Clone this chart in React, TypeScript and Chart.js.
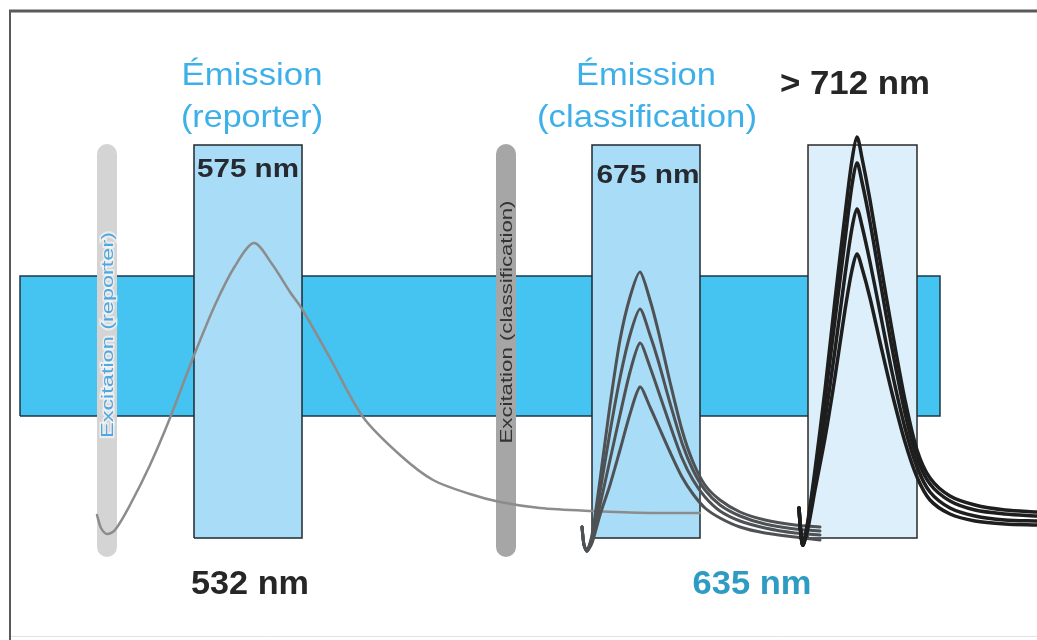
import React, { useEffect, useRef } from "react";
import { Chart, registerables } from "chart.js";

Chart.register(...registerables);

// ---- Data (diagram value space: x = spectral position, y = signal depth, top = 0) ----
const bandX = [20, 940];
const bandY = [276, 416];
const reporterBoxX = [194, 302];
const classBoxX = [592, 700];
const farRedBoxX = [808, 917];
const boxY = [145, 538];
const reporterLaserX = 107;
const classLaserX = 506;
const laserY = [154, 547];

const reporterX = [97, 101, 107, 115, 130, 150, 170, 193, 215, 235, 254, 272, 290, 302, 330, 363, 400, 433, 470, 500, 540, 592, 650, 700];
const reporterY = [515, 528, 534, 530, 505, 465, 418, 358, 305, 266, 243, 264, 292, 309, 358, 417, 455, 480, 494, 502, 508, 511, 513, 513];

const classX = [582, 584, 587, 592, 600, 610, 620, 630, 640, 650, 658, 670, 682, 693, 705, 720, 740, 765, 795, 820];
const classY1 = [527, 545, 551, 535, 480, 405, 340, 297, 272, 300, 330, 382, 430, 462, 485, 500, 512, 520, 525, 527];
const classY2 = [527, 545, 551, 537, 492, 432, 378, 335, 309, 335, 360, 403, 443, 470, 490, 505, 516, 524, 529, 531];
const classY3 = [527, 545, 551, 540, 505, 460, 415, 372, 343, 367, 390, 425, 458, 480, 497, 511, 521, 528, 533, 535];
const classY4 = [527, 545, 551, 543, 515, 485, 450, 414, 387, 407, 425, 452, 477, 494, 508, 518, 527, 533, 537, 540];

const farX = [799, 801, 803, 808, 815, 825, 835, 845, 852, 857, 862, 870, 880, 892, 905, 917, 930, 950, 975, 1005, 1037];
const farY1 = [508, 535, 545, 520, 470, 390, 300, 215, 160, 137, 158, 200, 260, 330, 400, 450, 478, 496, 505, 510, 512];
const farY2 = [508, 535, 545, 522, 475, 400, 320, 240, 185, 163, 182, 222, 280, 348, 413, 458, 484, 501, 510, 514, 516];
const farY3 = [508, 535, 545, 525, 482, 420, 350, 275, 228, 209, 226, 262, 312, 372, 428, 467, 492, 508, 516, 520, 521];
const farY4 = [508, 535, 545, 528, 490, 438, 377, 310, 270, 254, 268, 298, 342, 393, 442, 477, 500, 514, 521, 524, 525];

// ---- Labels ----
type Label = { text: string; x: number; y: number; w: number; size: number; bold: boolean; color: string; rot?: boolean; halo?: boolean };
const labels: Label[] = [
  { text: "Émission", x: 252, y: 84, w: 141, size: 32, bold: false, color: "#3DB0EA" },
  { text: "(reporter)", x: 252, y: 126, w: 142, size: 32, bold: false, color: "#3DB0EA" },
  { text: "Émission", x: 646, y: 84, w: 140, size: 32, bold: false, color: "#3DB0EA" },
  { text: "(classification)", x: 647, y: 126, w: 220, size: 32, bold: false, color: "#3DB0EA" },
  { text: "> 712 nm", x: 855, y: 93, w: 150, size: 34, bold: true, color: "#262626" },
  { text: "575 nm", x: 248, y: 176, w: 102, size: 25, bold: true, color: "#262a30" },
  { text: "675 nm", x: 648, y: 182, w: 103, size: 25, bold: true, color: "#262a30" },
  { text: "532 nm", x: 250, y: 593, w: 118, size: 33, bold: true, color: "#262626" },
  { text: "635 nm", x: 752, y: 593, w: 119, size: 33, bold: true, color: "#2E9CC2" },
  { text: "Excitation (reporter)", x: 107, y: 335, w: 206, size: 17, bold: false, color: "#4FA8E0", rot: true, halo: true },
  { text: "Excitation (classification)", x: 506, y: 322, w: 243, size: 17, bold: false, color: "#333333", rot: true },
];

const pts = (xs: number[], ys: number[]) => xs.map((x, i) => ({ x, y: ys[i] }));
const openRect = (xr: number[], yr: number[]) => [
  { x: xr[0], y: yr[1] },
  { x: xr[0], y: yr[0] },
  { x: xr[1], y: yr[0] },
  { x: xr[1], y: yr[1] },
];
const closedRect = (xr: number[], yr: number[]) => [...openRect(xr, yr), { x: xr[0], y: yr[1] }];

export default function App() {
  const ref = useRef<HTMLCanvasElement>(null);
  useEffect(() => {
    if (!ref.current) return;
    const curve = (data: any, color: string, width: number, tension: number) => ({
      data,
      borderColor: color,
      borderWidth: width,
      pointRadius: 0,
      tension,
      fill: false,
      borderJoinStyle: "round" as const,
      borderCapStyle: "round" as const,
    });
    const box = (xr: number[], yr: number[], fillColor: string, edge: string) => [
      {
        data: closedRect(xr, yr),
        borderColor: edge,
        borderWidth: 1.5,
        pointRadius: 0,
        tension: 0,
        fill: false,
      },
      {
        data: openRect(xr, yr),
        borderWidth: 0,
        borderColor: "rgba(0,0,0,0)",
        backgroundColor: fillColor,
        pointRadius: 0,
        tension: 0,
        fill: { value: yr[1] },
      },
    ];
    const laser = (x: number, color: string) => ({
      data: [{ x, y: laserY[0] }, { x, y: laserY[1] }],
      borderColor: color,
      borderWidth: 20,
      borderCapStyle: "round" as const,
      pointRadius: 0,
      tension: 0,
      fill: false,
    });

    const framePlugin = {
      id: "frame",
      beforeDraw(chart: any) {
        const { ctx, width, height } = chart;
        ctx.save();
        ctx.fillStyle = "#ffffff";
        ctx.fillRect(0, 0, width, height);
        const sx = chart.scales.x, sy = chart.scales.y;
        ctx.strokeStyle = "#5a5a5a";
        ctx.lineWidth = 3;
        ctx.beginPath();
        ctx.moveTo(sx.getPixelForValue(9), sy.getPixelForValue(11));
        ctx.lineTo(sx.getPixelForValue(1037), sy.getPixelForValue(11));
        ctx.stroke();
        ctx.lineWidth = 2;
        ctx.beginPath();
        ctx.moveTo(sx.getPixelForValue(10), sy.getPixelForValue(10));
        ctx.lineTo(sx.getPixelForValue(10), sy.getPixelForValue(640));
        ctx.stroke();
        ctx.strokeStyle = "#e2e2e2";
        ctx.lineWidth = 1;
        ctx.beginPath();
        ctx.moveTo(sx.getPixelForValue(11), sy.getPixelForValue(636.5));
        ctx.lineTo(sx.getPixelForValue(1037), sy.getPixelForValue(636.5));
        ctx.stroke();
        ctx.restore();
      },
    };

    const labelPlugin = {
      id: "labels",
      afterDatasetsDraw(chart: any) {
        const { ctx } = chart;
        const sx = chart.scales.x, sy = chart.scales.y;
        labels.forEach((l) => {
          ctx.save();
          ctx.font = `${l.bold ? "bold " : ""}${l.size}px "Liberation Sans", Arial, sans-serif`;
          const m = ctx.measureText(l.text).width;
          const k = l.w / m;
          ctx.translate(sx.getPixelForValue(l.x), sy.getPixelForValue(l.y));
          ctx.textAlign = "center";
          if (l.rot) {
            ctx.rotate(-Math.PI / 2);
            ctx.textBaseline = "middle";
          } else {
            ctx.textBaseline = "alphabetic";
          }
          ctx.scale(k, 1);
          if (l.halo) {
            ctx.strokeStyle = "rgba(255,255,255,0.55)";
            ctx.lineWidth = 3;
            ctx.strokeText(l.text, 0, 1);
          }
          ctx.fillStyle = l.color;
          ctx.fillText(l.text, 0, 1);
          ctx.restore();
        });
      },
    };

    const chart = new Chart(ref.current, {
      type: "line",
      data: {
        datasets: [
          curve(pts(farX, farY1), "#1e1e1e", 3.5, 0.3),
          curve(pts(farX, farY2), "#1e1e1e", 3.5, 0.3),
          curve(pts(farX, farY3), "#1e1e1e", 3.5, 0.3),
          curve(pts(farX, farY4), "#1e1e1e", 3.5, 0.3),
          curve(pts(classX, classY1), "#4f5254", 3, 0.25),
          curve(pts(classX, classY2), "#4f5254", 3, 0.25),
          curve(pts(classX, classY3), "#4f5254", 3, 0.25),
          curve(pts(classX, classY4), "#4f5254", 3, 0.25),
          curve(pts(reporterX, reporterY), "#8c8c8c", 2.5, 0.3),
          laser(classLaserX, "#a6a6a6"),
          laser(reporterLaserX, "#d4d4d4"),
          ...box(farRedBoxX, boxY, "#DCEFFA", "#2a2a2a"),
          ...box(classBoxX, boxY, "#A9DCF6", "#1f2a30"),
          ...box(reporterBoxX, boxY, "#A9DCF6", "#1f2a30"),
          ...box(bandX, bandY, "#45C3F1", "#1b3a48"),
        ] as any,
      },
      options: {
        animation: false,
        responsive: false,
        devicePixelRatio: 1,
        layout: { padding: 0 },
        plugins: { legend: { display: false }, tooltip: { enabled: false } },
        events: [],
        scales: {
          x: { type: "linear", min: 0, max: 1037, display: false },
          y: { type: "linear", min: 0, max: 640, reverse: true, display: false },
        },
      },
      plugins: [framePlugin, labelPlugin],
    });
    return () => chart.destroy();
  }, []);

  return (
    <div style={{ position: "absolute", left: 0, top: 0, width: 1037, height: 640, background: "#fff" }}>
      <canvas ref={ref} width={1037} height={640} />
    </div>
  );
}
